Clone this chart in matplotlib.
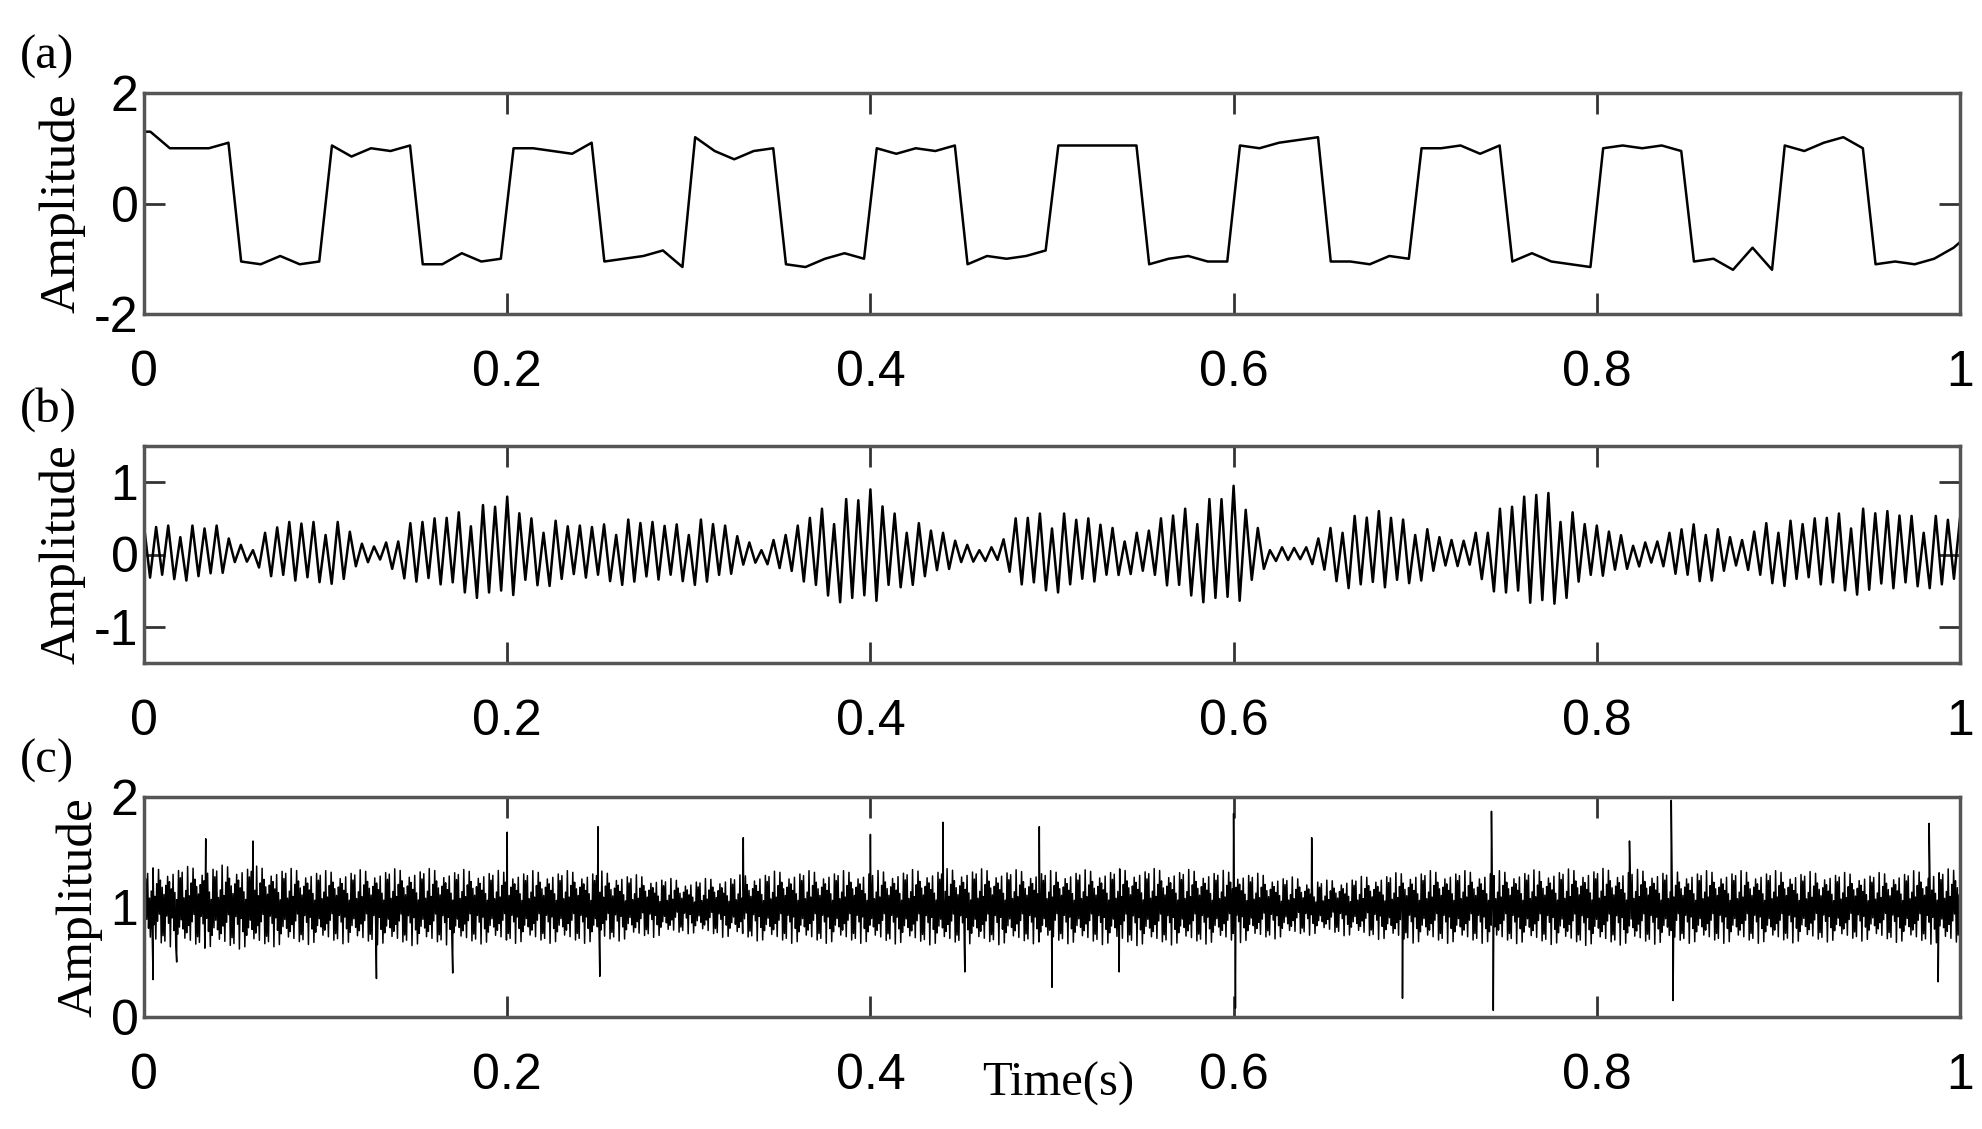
import numpy as np
import matplotlib.pyplot as plt

# ---- (a) square wave: 5 plateau readings per half period (0.05 s each)
plateaus_a = [
    [1.3, 1.0, 1.0, 1.0, 1.1], [-1.05, -1.1, -0.95, -1.1, -1.05],
    [1.05, 0.85, 1.0, 0.95, 1.05], [-1.1, -1.1, -0.9, -1.05, -1.0],
    [1.0, 1.0, 0.95, 0.9, 1.1], [-1.05, -1.0, -0.95, -0.85, -1.15],
    [1.2, 0.95, 0.8, 0.95, 1.0], [-1.1, -1.15, -1.0, -0.9, -1.0],
    [1.0, 0.9, 1.0, 0.95, 1.05], [-1.1, -0.95, -1.0, -0.95, -0.85],
    [1.05, 1.05, 1.05, 1.05, 1.05], [-1.1, -1.0, -0.95, -1.05, -1.05],
    [1.05, 1.0, 1.1, 1.15, 1.2], [-1.05, -1.05, -1.1, -0.95, -1.0],
    [1.0, 1.0, 1.05, 0.9, 1.05], [-1.05, -0.9, -1.05, -1.1, -1.15],
    [1.0, 1.05, 1.0, 1.05, 0.95], [-1.05, -1.0, -1.2, -0.8, -1.2],
    [1.05, 0.95, 1.1, 1.2, 1.0], [-1.1, -1.05, -1.1, -1.0, -0.8],
]
plateau_frac = [0.0, 0.25, 0.5, 0.75, 1.0]

# ---- (b) envelope of the oscillation, read every 0.01 s
env_b = [0.4, 0.4, 0.4, 0.4, 0.4, 0.15, 0.1, 0.4, 0.45, 0.45,
         0.45, 0.45, 0.15, 0.1, 0.3, 0.5, 0.5, 0.55, 0.65, 0.7,
         0.8, 0.5, 0.5, 0.45, 0.4, 0.4, 0.45, 0.5, 0.45, 0.4,
         0.45, 0.5, 0.4, 0.2, 0.1, 0.25, 0.4, 0.6, 0.7, 0.8,
         0.9, 0.6, 0.5, 0.4, 0.3, 0.15, 0.1, 0.1, 0.5, 0.55,
         0.6, 0.55, 0.5, 0.4, 0.3, 0.3, 0.5, 0.6, 0.7, 0.8,
         0.95, 0.5, 0.1, 0.1, 0.1, 0.3, 0.5, 0.55, 0.6, 0.5,
         0.45, 0.3, 0.2, 0.2, 0.5, 0.7, 0.8, 0.9, 0.75, 0.5,
         0.4, 0.3, 0.2, 0.15, 0.3, 0.4, 0.45, 0.3, 0.2, 0.4,
         0.5, 0.45, 0.5, 0.55, 0.6, 0.65, 0.6, 0.55, 0.5, 0.55, 0.5]
freq_b = 150
jitter_b = [1.0, 0.8, 0.95, 0.7, 1.0, 0.85, 0.6, 0.9, 1.0, 0.75, 0.9, 0.65]

# ---- (c) noisy band around 1: half-width every 0.05 s, plus spikes
band_c = [0.32, 0.35, 0.3, 0.32, 0.3, 0.3, 0.22, 0.3, 0.3, 0.32, 0.3,
          0.32, 0.3, 0.22, 0.3, 0.3, 0.32, 0.3, 0.3, 0.28, 0.32]
pattern_c = [1.0, 0.55, 0.8, 0.35, 0.95, 0.6, 0.25, 0.85, 0.45, 0.7,
             1.1, 0.5, 0.3, 0.9, 0.65, 0.4, 1.05, 0.2, 0.75]
spike_t = [0.005, 0.018, 0.034, 0.06, 0.128, 0.17, 0.2, 0.25, 0.251, 0.33,
           0.4, 0.44, 0.452, 0.493, 0.5, 0.537, 0.6, 0.601, 0.643, 0.693,
           0.742, 0.743, 0.818, 0.841, 0.842, 0.983, 0.988]
spike_v = [0.34, 0.5, 1.62, 1.6, 0.35, 0.4, 1.68, 1.73, 0.37, 1.63,
           1.66, 1.77, 0.41, 1.73, 0.27, 0.41, 1.85, 0.08, 1.63, 0.17,
           1.87, 0.06, 1.6, 1.97, 0.15, 1.76, 0.32]

# build (a)
ta, ya = [], []
for k, vals in enumerate(plateaus_a):
    t0 = 0.05 * k
    for f, v in zip(plateau_frac, vals):
        ta.append(t0 + 0.0035 + f * 0.043)
        ya.append(v)
ta = [0.0] + ta + [1.0]
ya = [plateaus_a[0][0]] + ya + [-0.7]

# build (b)
tb = np.arange(0, freq_b * 2 + 1) / (2 * freq_b)
env_t = np.linspace(0, 1, len(env_b))
yb = np.interp(tb, env_t, env_b)
yb = yb * np.array([jitter_b[i % len(jitter_b)] * (-1) ** i for i in range(len(tb))])

# build (c)
tc = np.linspace(0, 1, 2000)
hw = np.interp(tc, np.linspace(0, 1, len(band_c)), band_c)
yc = 1 + hw * np.array([pattern_c[i % len(pattern_c)] * (-1) ** i for i in range(len(tc))])
tc = np.concatenate([tc, spike_t])
yc = np.concatenate([yc, spike_v])
order = np.argsort(tc, kind='stable')
tc, yc = tc[order], yc[order]

fig = plt.figure(figsize=(19.82, 11.29), dpi=100)
rects = [(144, 93, 314), (144, 446, 663), (144, 797, 1017)]
W, H = 1982, 1129
panels = [
    (ta, ya, (-2, 2), [-2, 0, 2], ['-2', '0', '2'], '(a)'),
    (tb, yb, (-1.5, 1.5), [-1, 0, 1], ['-1', '0', '1'], '(b)'),
    (tc, yc, (0, 2), [0, 1, 2], ['0', '1', '2'], '(c)'),
]
for (left, top, bot), (t, y, ylim, yt, ytl, tag) in zip(rects, panels):
    ax = fig.add_axes([left / W, 1 - bot / H, (1960 - left) / W, (bot - top) / H])
    ax.plot(t, y, color='black', lw=1.8 if tag != '(c)' else 1.1)
    ax.set_xlim(0, 1)
    ax.set_ylim(*ylim)
    ax.set_xticks([0, 0.2, 0.4, 0.6, 0.8, 1])
    ax.set_xticklabels(['0', '0.2', '0.4', '0.6', '0.8', '1'], family='Liberation Sans', fontsize=36)
    ax.set_yticks(yt)
    ax.set_yticklabels(ytl, family='Liberation Sans', fontsize=36)
    ax.tick_params(direction='in', length=15, width=2, color='#333333',
                   top=True, right=True)
    ax.tick_params(axis='x', pad=26)
    ax.tick_params(axis='y', pad=4)
    for s in ax.spines.values():
        s.set_linewidth(2.5)
        s.set_color('#555555')
    ax.set_ylabel('Amplitude', family='Liberation Serif', fontsize=37, labelpad=6)
    fig.text(0.01, 1 - (top - 36) / H, tag, family='Liberation Serif', fontsize=35,
             ha='left', va='center')

fig.text(1058 / W, 1 - 1084 / H, 'Time(s)', family='Liberation Serif', fontsize=35,
         ha='center', va='center')
fig.savefig('out.png', dpi=100)
